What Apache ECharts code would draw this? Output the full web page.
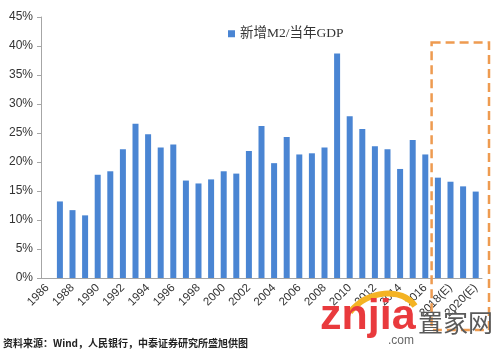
<!DOCTYPE html>
<html>
<head>
<meta charset="utf-8">
<script src="https://cdn.jsdelivr.net/npm/echarts@6/dist/echarts.min.js"></script>
<style>
html,body{margin:0;padding:0;background:#fff;}
#chart{width:500px;height:353px;}
</style>
</head>
<body>
<div id="chart"></div>
<script>
var years = ['1986','1987','1988','1989','1990','1991','1992','1993','1994','1995',
	'1996','1997','1998','1999','2000','2001','2002','2003','2004','2005',
	'2006','2007','2008','2009','2010','2011','2012','2013','2014','2015',
	'2016','2017(E)','2018(E)','2019(E)','2020(E)'];
// 新增M2 / 当年GDP, %
var m2Ratio = [null, 13.2, 11.7, 10.8, 17.8, 18.4, 22.2, 26.6, 24.8, 22.5,
	23.0, 16.8, 16.3, 17.0, 18.4, 18.0, 21.9, 26.2, 19.8, 24.3,
	21.3, 21.5, 22.5, 38.7, 27.9, 25.7, 22.7, 22.2, 18.8, 23.8,
	21.3, 17.3, 16.6, 15.8, 14.9];
var yTicks = [0, 5, 10, 15, 20, 25, 30, 35, 40, 45];
var seriesName = '新增M2/当年GDP';
var sourceText = '资料来源：Wind，人民银行，中泰证券研究所盛旭供图';

var myChart = echarts.init(document.getElementById('chart'));
var axisGray = '#a6a6a6';
var option = {
	animation: false,
	grid: {left: 41, right: 18, top: 17, bottom: 75},
	legend: {
		data: [seriesName],
		left: 223, top: 22,
		itemWidth: 7, itemHeight: 7, itemGap: 3,
		icon: 'rect',
		textStyle: {fontFamily: '"Liberation Serif", "Noto Sans CJK SC", serif', fontSize: 13.5, color: '#333'}
	},
	xAxis: {
		type: 'category',
		data: years,
		axisLine: {lineStyle: {color: axisGray}},
		axisTick: {interval: 0, length: 5, lineStyle: {color: axisGray}},
		axisLabel: {
			interval: 1, rotate: 45, margin: 8,
			fontFamily: '"Liberation Sans", Arial, sans-serif', fontSize: 11.5, color: '#333'
		}
	},
	yAxis: {
		type: 'value',
		min: yTicks[0], max: yTicks[yTicks.length - 1], interval: 5,
		splitLine: {show: false},
		axisLine: {show: true, lineStyle: {color: axisGray}},
		axisTick: {show: true, length: 4, lineStyle: {color: axisGray}},
		axisLabel: {
			formatter: '{value}%', margin: 8,
			fontFamily: '"Liberation Sans", Arial, sans-serif', fontSize: 12, color: '#333'
		}
	},
	series: [{
		name: seriesName,
		type: 'bar',
		data: m2Ratio,
		barWidth: 6,
		itemStyle: {color: '#4a85d3'}
	}]
};
myChart.setOption(option);

// 预测区间虚线框，按坐标轴换算位置
var c1 = myChart.convertToPixel({xAxisIndex: 0}, years[years.length - 4]);
var c0 = myChart.convertToPixel({xAxisIndex: 0}, years[years.length - 5]);
var cw = c1 - c0;
var boxLeft = c1 - cw / 2;
var boxRight = myChart.convertToPixel({xAxisIndex: 0}, years[years.length - 1]) + cw / 2 + 7;
var boxTop = myChart.convertToPixel({yAxisIndex: 0}, 40.6);

myChart.setOption({
	graphic: [
		{
			type: 'rect',
			shape: {x: boxLeft, y: boxTop, width: boxRight - boxLeft, height: 330 - boxTop},
			style: {fill: 'none', stroke: '#ee9b50', lineWidth: 2.5, lineDash: [9, 5]},
			z: 10
		},
		{
			type: 'text', left: 3, top: 338,
			style: {text: sourceText, font: 'bold 10px "Noto Sans CJK SC", sans-serif', fill: '#222'}
		},
		// 水印
		{
			type: 'bezierCurve',
			shape: {x1: 350, y1: 312, x2: 415, y2: 306, cpx1: 368, cpy1: 290, cpx2: 402, cpy2: 287},
			style: {stroke: '#f4b323', lineWidth: 6, fill: 'none'},
			z: 20
		},
		{
			type: 'text', left: 320, top: 296,
			style: {text: 'znjia', font: 'bold 43px "Liberation Sans", sans-serif', fill: '#e93a3d'},
			z: 21
		},
		{
			type: 'text', left: 418, top: 310,
			style: {text: '置家网', font: '25px "Noto Sans CJK SC", sans-serif', fill: '#5a5a5a'},
			z: 20
		},
		{
			type: 'text', left: 388, top: 335,
			style: {text: '.com', font: '12px "Liberation Sans", sans-serif', fill: '#666'},
			z: 20
		}
	]
});
</script>
</body>
</html>
